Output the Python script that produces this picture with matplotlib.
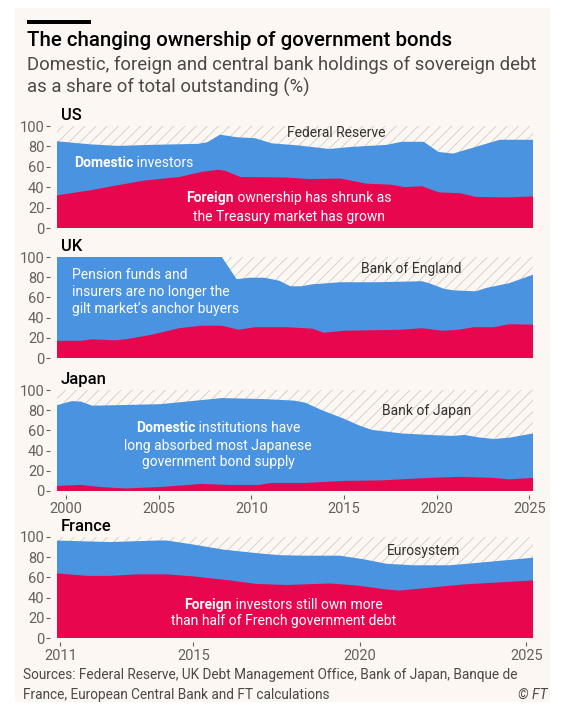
import matplotlib
matplotlib.use("Agg")
import matplotlib.pyplot as plt
from matplotlib.patches import Rectangle
from matplotlib.offsetbox import TextArea, HPacker, AnnotationBbox

plt.rcParams['font.family'] = ['Roboto', 'DejaVu Sans']
plt.rcParams['hatch.linewidth'] = 0.6

# --- data (share of total outstanding, %) ---
us_top_years = [1999.5, 2001.3, 2002.8, 2004.6, 2007.1, 2007.6, 2008.3, 2009.2, 2010.2, 2011.1, 2012.5,
                2014.2, 2015.4, 2017.3, 2018.1, 2019.3, 2020.1, 2020.9, 2022.1, 2023.4, 2025.2]
us_top = [85, 82, 80.5, 81.5, 82.5, 84, 91.5, 89, 88, 83, 81,
          77.5, 79.5, 81.5, 84.5, 84.5, 74.5, 73, 79.5, 86.5, 86.5]
us_for_years = [1999.5, 2001.3, 2002.8, 2004.2, 2006.1, 2007.3, 2008.2, 2008.6, 2009.4, 2011.9, 2013.1,
                2014.8, 2016.2, 2017.5, 2018.3, 2019.2, 2020.1, 2021.3, 2022.1, 2023.9, 2025.2]
us_foreign = [32, 37, 42, 46.5, 50, 55, 57, 56, 50, 49.5, 48,
              48.5, 43.5, 42.5, 40, 41, 35, 34, 30.5, 30, 31]

uk_top_years = [1999.5, 2008.4, 2008.8, 2009.2, 2009.9, 2010.7, 2011.5, 2012.1, 2012.7, 2013.3,
                2014.8, 2016.7, 2019.2, 2019.6, 2020.4, 2020.9, 2022.1, 2022.7, 2023.9, 2025.2]
uk_top = [100, 100, 89, 78, 79.5, 79.5, 76.5, 71, 71, 73,
          75, 75, 76, 74, 68.5, 67, 66, 69.5, 74, 82.5]
uk_for_years = [1999.5, 2000.8, 2001.4, 2002.6, 2003.2, 2004.6, 2006.1, 2007.3, 2008.4, 2009.3, 2010.2,
                2011.9, 2013.3, 2013.9, 2015.0, 2018.1, 2019.2, 2020.3, 2021.2, 2022.0, 2023.1, 2023.9, 2025.2]
uk_foreign = [17, 17, 18.5, 17.5, 18.5, 23, 29.5, 32, 32, 28, 30.5,
              30.5, 29, 25, 27, 28, 29.5, 27, 28, 30.5, 30.5, 33.5, 33]

jp_top_years = [1999.5, 2000.3, 2000.8, 2001.4, 2002.8, 2005.1, 2007.3, 2008.4, 2010.7, 2012.3, 2012.9,
                2013.8, 2015.0, 2015.8, 2016.5, 2018.1, 2019.6, 2020.9, 2021.5, 2022.3, 2023.1, 2024.0, 2025.2]
jp_top = [85, 89, 88.5, 84.5, 85, 86, 90, 92, 91, 89.5, 87.5,
          80, 71.5, 65, 60.5, 57, 55.5, 54.5, 55.5, 53, 51.5, 53, 57]
jp_for_years = [1999.5, 2000.8, 2001.8, 2003.2, 2005.1, 2007.3, 2008.8, 2010.4, 2011.1, 2012.9,
                2015.0, 2017.0, 2019.6, 2021.3, 2023.1, 2023.9, 2025.2]
jp_foreign = [5, 6, 4, 2.5, 4, 7, 6, 6, 8, 8,
              10, 10.5, 13, 14, 13, 11.5, 13]

fr_top_years = [2010.9, 2012.5, 2013.9, 2014.2, 2015.0, 2015.9, 2016.9, 2017.6, 2018.3, 2019.4,
                2020.1, 2020.8, 2021.6, 2022.7, 2023.9, 2025.2]
fr_top = [96.5, 95, 96.5, 96.5, 92.5, 87.5, 84, 82, 81.5, 81.5,
          78, 73.5, 72, 72, 75.5, 79.5]
fr_for_years = [2010.9, 2011.8, 2012.5, 2013.3, 2014.2, 2015.0, 2016.1, 2016.9, 2017.8, 2019.1,
                2019.9, 2020.8, 2021.2, 2022.0, 2023.1, 2025.2]
fr_foreign = [64, 61.5, 61.5, 63, 63, 61, 57, 53.5, 52.5, 54,
              52, 48, 47, 49.5, 53, 57]

panel_names = ["US", "UK", "Japan", "France"]
cb_names = ["Federal Reserve", "Bank of England", "Bank of Japan", "Eurosystem"]
long_ticks = [2000, 2005, 2010, 2015, 2020, 2025]
fr_ticks = [2011, 2015, 2020, 2025]

# --- styling ---
W, H = 565, 714
BG = '#fcf7f2'
BLUE = '#4a93e0'
RED = '#e8074f'
HATCH = '#d3ccc6'
GREY = '#66605c'
DARK = '#33302e'

fig = plt.figure(figsize=(W / 100, H / 100), dpi=100, facecolor='white')
fig.patches.append(Rectangle((15 / W, 1 - 702 / H), 535 / W, 694 / H, transform=fig.transFigure,
                             facecolor=BG, edgecolor='none', zorder=-10))


def px_axes(left, top, right, bottom):
    return fig.add_axes([left / W, 1 - bottom / H, (right - left) / W, (bottom - top) / H])


def rich(ax, x, y, parts, color, size, align=(0.5, 0.5)):
    boxes = [TextArea(t, textprops=dict(color=color, fontsize=size, fontweight=w)) for t, w in parts]
    pack = HPacker(children=boxes, pad=0, sep=0, align='baseline')
    ab = AnnotationBbox(pack, (x, y), xycoords='data', box_alignment=align, frameon=False, pad=0,
                        annotation_clip=False, zorder=5)
    ax.add_artist(ab)


panels = [
    (us_top_years, us_top, us_for_years, us_foreign, (126, 228)),
    (uk_top_years, uk_top, uk_for_years, uk_foreign, (257, 358)),
    (jp_top_years, jp_top, jp_for_years, jp_foreign, (390, 491)),
    (fr_top_years, fr_top, fr_for_years, fr_foreign, (537, 638)),
]

axes = []
for i, (ty, tv, fy, fv, (top, bot)) in enumerate(panels):
    ax = px_axes(57, top, 533, bot)
    ax.set_facecolor('none')
    x0, x1 = ty[0], ty[-1]
    ax.fill_between([x0, x1], 0, 100, facecolor='none', edgecolor=HATCH, hatch='///', linewidth=0)
    ax.fill_between(ty, 0, tv, facecolor=BLUE, edgecolor='none', linewidth=0)
    ax.fill_between(fy, 0, fv, facecolor=RED, edgecolor='none', linewidth=0)
    ax.set_xlim(x0, x1)
    ax.set_ylim(0, 100)
    ax.set_yticks([0, 20, 40, 60, 80, 100])
    for s in ax.spines.values():
        s.set_visible(False)
    ax.spines['left'].set_position(('outward', 5))
    ax.spines['bottom'].set_position(('outward', 3))
    ax.tick_params(axis='y', length=3, width=0.8, pad=1, color=GREY, labelcolor=GREY, labelsize=10.5)
    ax.tick_params(axis='x', length=3, width=0.8, pad=2, color=GREY, labelcolor=GREY, labelsize=10.5)
    if i == 2:
        ax.set_xticks(long_ticks)
    elif i == 3:
        ax.set_xticks(fr_ticks)
    else:
        ax.set_xticks([])
    ax.text(0.008, 1.03, panel_names[i], transform=ax.transAxes, fontsize=12, fontweight='medium',
            color='black', ha='left', va='bottom')
    axes.append(ax)

ax_us, ax_uk, ax_jp, ax_fr = axes
ANN = 10

# US
rich(ax_us, 2000.4, 63.5, [("Domestic", 'bold'), (" investors", 'normal')], 'white', ANN, (0, 0.5))
ax_us.text(2014.6, 93, cb_names[0], color=DARK, fontsize=ANN, ha='center', va='center')
rich(ax_us, 2012.0, 29, [("Foreign", 'bold'), (" ownership has shrunk as", 'normal')], 'white', ANN)
ax_us.text(2012.0, 11, "the Treasury market has grown", color='white', fontsize=ANN, ha='center', va='center')

# UK
for yv, line in zip([82, 65, 49], ["Pension funds and", "insurers are no longer the",
                                   "gilt market\u2019s anchor buyers"]):
    ax_uk.text(2000.3, yv, line, color='white', fontsize=ANN, ha='left', va='center')
ax_uk.text(2018.6, 88.5, cb_names[1], color=DARK, fontsize=ANN, ha='center', va='center')

# Japan
rich(ax_jp, 2008.2, 62, [("Domestic", 'bold'), (" institutions have", 'normal')], 'white', ANN)
ax_jp.text(2008.2, 44.5, "long absorbed most Japanese", color='white', fontsize=ANN, ha='center', va='center')
ax_jp.text(2008.2, 28.5, "government bond supply", color='white', fontsize=ANN, ha='center', va='center')
ax_jp.text(2019.45, 79, cb_names[2], color=DARK, fontsize=ANN, ha='center', va='center')

# France
ax_fr.text(2021.9, 86.5, cb_names[3], color=DARK, fontsize=ANN, ha='center', va='center')
rich(ax_fr, 2017.7, 32.5, [("Foreign", 'bold'), (" investors still own more", 'normal')], 'white', ANN)
ax_fr.text(2017.7, 17, "than half of French government debt", color='white', fontsize=ANN,
           ha='center', va='center')

# header
fig.patches.append(Rectangle((27 / W, 1 - 24 / H), 64 / W, 4 / H, transform=fig.transFigure,
                             facecolor='black', edgecolor='none'))
fig.text(27 / W, 1 - 46 / H, "The changing ownership of government bonds", fontsize=14.8,
         fontweight='medium', color='black', ha='left', va='baseline')
fig.text(27 / W, 1 - 70 / H, "Domestic, foreign and central bank holdings of sovereign debt",
         fontsize=13.3, color='#4d4845', ha='left', va='baseline')
fig.text(27 / W, 1 - 93 / H, "as a share of total outstanding (%)",
         fontsize=13.3, color='#4d4845', ha='left', va='baseline')

# footer
fig.text(23 / W, 1 - 675 / H, "Sources: Federal Reserve, UK Debt Management Office, Bank of Japan, Banque de",
         fontsize=9.8, color='#4d4845', ha='left', va='center')
fig.text(23 / W, 1 - 695 / H, "France, European Central Bank and FT calculations",
         fontsize=9.8, color='#4d4845', ha='left', va='center')
fig.text(547 / W, 1 - 695 / H, "\u00a9 FT", fontsize=10, color='#4d4845', style='italic',
         ha='right', va='center')

fig.savefig("out.png", dpi=100, facecolor='white')
